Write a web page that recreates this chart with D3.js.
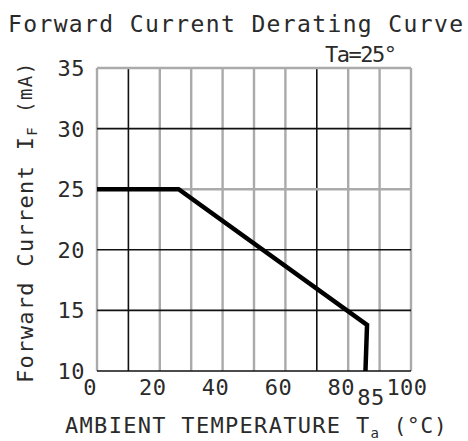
<!DOCTYPE html>
<html><head><meta charset="utf-8">
<script src="https://cdn.jsdelivr.net/npm/d3@7"></script>
<style>
html,body{margin:0;padding:0;background:#fff;}
svg{display:block;}
text{font-family:"DejaVu Sans Mono","Liberation Mono",monospace;fill:#2a2a2a;}
</style></head>
<body>
<svg id="c" width="468" height="441"></svg>
<script>
// ---- data ----
const temperature = [0, 26, 86, 85.5];        // Ta (°C)
const forwardCurrent = [25, 25, 13.8, 10];    // IF (mA)
const xTickValues = [0, 20, 40, 60, 80, 85, 100];
const xTickLabels = ["0", "20", "40", "60", "80", "85", "100"];
const yTickValues = [10, 15, 20, 25, 30, 35];
const yTickLabels = ["10", "15", "20", "25", "30", "35"];
const xGridValues = [0, 10, 20, 30, 40, 50, 60, 70, 80, 90, 100];
const yGridValues = [10, 15, 20, 25, 30, 35];
const xGridDark = [10, 70];
const yGridDark = [10, 15, 20, 30];
const title = "Forward Current Derating Curve";
const subtitle = "Ta=25°";

const svg = d3.select("#c");
const x = d3.scaleLinear().domain([0, 100]).range([97, 411]);
const y = d3.scaleLinear().domain([10, 35]).range([371, 68]);

// grid
const g = svg.append("g");
g.selectAll("line.v").data(xGridValues).join("line")
  .attr("x1", d => x(d)).attr("x2", d => x(d))
  .attr("y1", y(35)).attr("y2", y(10))
  .attr("stroke", d => xGridDark.includes(d) ? "#111" : "#aaa")
  .attr("stroke-width", d => xGridDark.includes(d) ? 1.6 : 2.4);
g.selectAll("line.h").data(yGridValues).join("line")
  .attr("y1", d => y(d)).attr("y2", d => y(d))
  .attr("x1", x(0)).attr("x2", x(100))
  .attr("stroke", d => yGridDark.includes(d) ? "#111" : "#aaa")
  .attr("stroke-width", d => yGridDark.includes(d) ? 1.6 : 2.4);

// curve
const line = d3.line().x((d, i) => x(temperature[i])).y((d, i) => y(forwardCurrent[i]));
svg.append("path").datum(temperature).attr("d", line)
  .attr("fill", "none").attr("stroke", "#000").attr("stroke-width", 4.5)
  .attr("stroke-linejoin", "miter");

// y tick labels
svg.selectAll("text.yl").data(yTickValues).join("text")
  .attr("x", 85).attr("y", d => y(d)).attr("dy", "0.36em")
  .attr("text-anchor", "end").attr("font-size", 22).attr("letter-spacing", 0.5)
  .text((d, i) => yTickLabels[i]);

// x tick labels
svg.selectAll("text.xl").data(xTickValues).join("text")
  .attr("x", d => x(d) + (d === 85 ? 7 : d === 100 ? -4 : -7))
  .attr("y", d => d === 85 ? 405 : 395)
  .attr("text-anchor", "middle").attr("font-size", 22).attr("letter-spacing", 0.5)
  .text((d, i) => xTickLabels[i]);

// title
svg.append("text").attr("x", 8).attr("y", 32)
  .attr("font-size", 23).attr("textLength", 455).attr("lengthAdjust", "spacing")
  .text(title);
svg.append("text").attr("x", 325).attr("y", 62)
  .attr("font-size", 22).attr("textLength", 72).attr("lengthAdjust", "spacing")
  .text(subtitle);

// x axis title
const xt = svg.append("text").attr("x", 65).attr("y", 433).attr("font-size", 22).attr("letter-spacing", 1.3);
xt.append("tspan").text("AMBIENT TEMPERATURE T");
xt.append("tspan").attr("font-size", 14).attr("dy", 5).text("a");
xt.append("tspan").attr("font-size", 21).attr("dy", -5).attr("letter-spacing", 0.8).text(" (°C)");

// y axis title
const yt = svg.append("text").attr("transform", "translate(33,383) rotate(-90)")
  .attr("font-size", 22).attr("letter-spacing", 1.3);
yt.append("tspan").text("Forward Current I");
yt.append("tspan").attr("font-size", 14).attr("dy", 4).text("F");
yt.append("tspan").attr("font-size", 19).attr("dy", -5).attr("letter-spacing", 1.5).text(" (mA)");
</script>
</body></html>
